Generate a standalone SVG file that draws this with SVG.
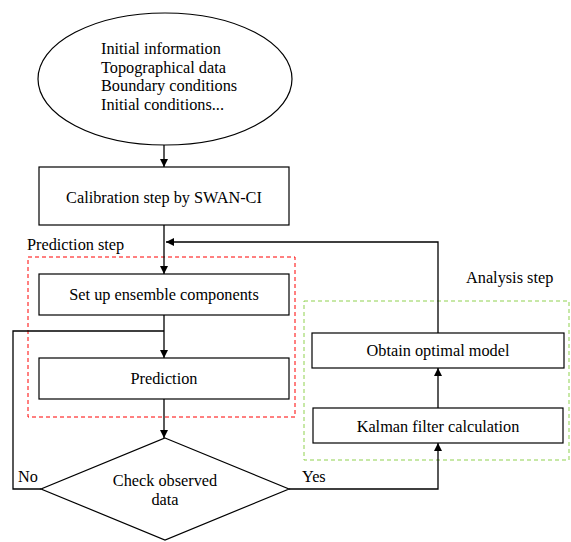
<svg xmlns="http://www.w3.org/2000/svg" width="571" height="542" viewBox="0 0 571 542">
<style>
.c{text-anchor:middle}
.box{fill:#fff;stroke:#000;stroke-width:1.2}
.ln{fill:none;stroke:#000;stroke-width:1.3}
</style>
<defs>
<marker id="ah" viewBox="0 0 10 10" refX="10" refY="5" markerWidth="8" markerHeight="8" markerUnits="userSpaceOnUse" orient="auto">
<path d="M0,0 L10,5 L0,10 z" fill="#000"/>
</marker>
</defs>
<g id="groups">
<rect x="28" y="257" width="267" height="160" fill="none" stroke="#ff0000" stroke-width="1" stroke-dasharray="4,3"/>
<text x="27" y="250" font-family="Liberation Serif" font-size="16.3">Prediction step</text>
<rect x="304" y="301" width="265" height="159" fill="none" stroke="#8fd14f" stroke-width="1" stroke-dasharray="4,3"/>
<text x="466" y="283" font-family="Liberation Serif" font-size="16.3">Analysis step</text>
</g>
<g id="connectors">
<line class="ln" x1="164" y1="145" x2="164" y2="167" marker-end="url(#ah)"/>
<line class="ln" x1="164" y1="225" x2="164" y2="274" marker-end="url(#ah)"/>
<line class="ln" x1="164" y1="315" x2="164" y2="358" marker-end="url(#ah)"/>
<line class="ln" x1="164" y1="399" x2="164" y2="438" marker-end="url(#ah)"/>
<polyline class="ln" points="41,489 13,489 13,331 164,331"/>
<polyline class="ln" points="289,489 438,489 438,443" marker-end="url(#ah)"/>
<line class="ln" x1="438" y1="408" x2="438" y2="368" marker-end="url(#ah)"/>
<polyline class="ln" points="438,333 438,242 166,242" marker-end="url(#ah)"/>
<text x="18" y="482" font-family="Liberation Serif" font-size="16.3">No</text>
<text x="302" y="482" font-family="Liberation Serif" font-size="16.3">Yes</text>
</g>
<g id="start">
<ellipse cx="165" cy="79" rx="127" ry="66" class="box"/>
<text x="101" y="54" font-family="Liberation Serif" font-size="16.3">Initial information</text>
<text x="101" y="73" font-family="Liberation Serif" font-size="16.3">Topographical data</text>
<text x="101" y="91" font-family="Liberation Serif" font-size="16.3">Boundary conditions</text>
<text x="101" y="110" font-family="Liberation Serif" font-size="16.3">Initial conditions...</text>
</g>
<g id="calibration">
<rect x="39" y="167" width="250" height="58" class="box"/>
<text x="164" y="203" class="c" font-family="Liberation Serif" font-size="16.3">Calibration step by SWAN-CI</text>
</g>
<g id="setup">
<rect x="39" y="274" width="250" height="41" class="box"/>
<text x="164" y="300" class="c" font-family="Liberation Serif" font-size="16.3">Set up ensemble components</text>
</g>
<g id="prediction">
<rect x="39" y="358" width="250" height="41" class="box"/>
<text x="164" y="384" class="c" font-family="Liberation Serif" font-size="16.3">Prediction</text>
</g>
<g id="check">
<polygon points="165,438 289,489 165,540 41,489" class="box"/>
<text x="165" y="486" class="c" font-family="Liberation Serif" font-size="16.3">Check observed</text>
<text x="165" y="505" class="c" font-family="Liberation Serif" font-size="16.3">data</text>
</g>
<g id="obtain">
<rect x="312" y="333" width="252" height="35" class="box"/>
<text x="438" y="356" class="c" font-family="Liberation Serif" font-size="16.3">Obtain optimal model</text>
</g>
<g id="kalman">
<rect x="313" y="408" width="250" height="35" class="box"/>
<text x="438" y="432" class="c" font-family="Liberation Serif" font-size="16.3">Kalman filter calculation</text>
</g>
</svg>
